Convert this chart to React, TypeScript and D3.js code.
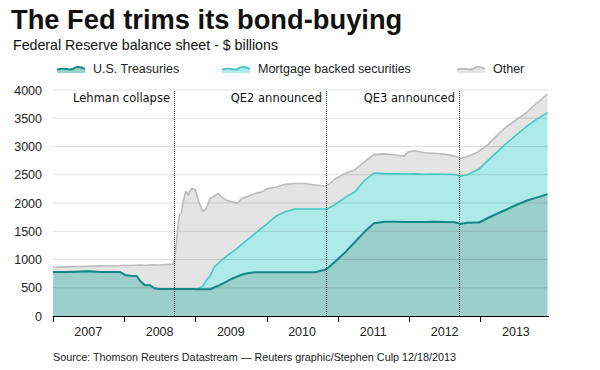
import React from "react";
import * as d3 from "d3";

const dates: string[] = [
  "2007-01-03","2007-03-07","2007-05-02","2007-07-04","2007-09-05","2007-11-07","2007-12-12",
  "2008-01-09","2008-02-06","2008-03-05","2008-03-26","2008-04-16","2008-05-14","2008-06-04",
  "2008-07-02","2008-08-06","2008-09-10","2008-09-17","2008-09-24","2008-10-01","2008-10-08",
  "2008-10-15","2008-10-22","2008-10-29","2008-11-05","2008-11-12","2008-11-19","2008-11-26",
  "2008-12-03","2008-12-10","2008-12-17","2008-12-24","2008-12-31","2009-01-07","2009-01-14",
  "2009-01-21","2009-01-28","2009-02-04","2009-02-11","2009-02-18","2009-02-25","2009-03-04",
  "2009-03-11","2009-03-18","2009-04-08","2009-04-29","2009-05-13","2009-06-10","2009-07-08",
  "2009-08-05","2009-08-26","2009-09-30","2009-11-04","2009-12-09","2010-01-06","2010-02-17",
  "2010-04-07","2010-05-26","2010-07-14","2010-09-08","2010-10-27","2010-11-10","2010-12-15",
  "2011-02-09","2011-03-30","2011-05-18","2011-07-06","2011-08-31","2011-10-19","2011-12-07",
  "2011-12-28","2012-02-01","2012-03-21","2012-05-09","2012-07-04","2012-08-22","2012-09-19",
  "2012-10-24","2012-12-12","2012-12-26","2013-02-06","2013-03-27","2013-05-15","2013-07-03",
  "2013-08-28","2013-10-16","2013-12-11",
];

const treasuries: number[] = [
  779,779,785,790,780,780,779,
  722,713,708,615,548,545,492,
  478,479,479,479,479,478,478,
  477,477,477,476,476,476,476,
  476,476,476,476,475,475,475,
  475,475,475,475,475,475,474,
  474,474,505,535,560,610,660,
  700,730,760,776,776,776,776,
  776,776,776,775,820,845,950,
  1130,1310,1490,1640,1668,1670,1665,
  1665,1665,1665,1668,1665,1660,1630,
  1650,1655,1655,1730,1810,1885,1965,
  2045,2095,2154,
];

const mbs: number[] = [
  0,0,0,0,0,0,0,
  0,0,0,0,0,0,0,
  0,0,0,0,0,0,0,
  0,0,0,0,0,0,0,
  0,0,0,0,0,0,5,
  15,30,45,65,110,150,185,
  210,236,360,395,420,450,470,
  500,535,605,687,789,864,989,
  1070,1118,1118,1119,1074,1055,1015,
  970,890,910,890,852,845,848,
  847,850,845,845,845,845,848,
  845,925,950,1015,1090,1172,1235,
  1315,1386,1446,
];

const other: number[] = [
  83,91,90,90,108,110,114,
  176,182,189,285,349,357,413,
  425,431,439,521,771,1022,1222,
  1333,1353,1513,1624,1724,1714,1664,
  1724,1774,1779,1764,1765,1685,1600,
  1510,1445,1360,1310,1285,1275,1291,
  1336,1370,1255,1240,1130,990,890,
  795,815,755,707,635,615,515,
  484,451,451,426,406,410,455,
  425,390,330,330,350,335,317,
  393,410,380,367,350,325,312,
  325,310,315,280,300,294,269,
  250,284,329,
];

const yTicks: number[] = [0, 500, 1000, 1500, 2000, 2500, 3000, 3500, 4000];
const yearLabels: string[] = ["2007", "2008", "2009", "2010", "2011", "2012", "2013"];

const events = [
  { date: "2008-09-15", label: "Lehman collapse" },
  { date: "2010-11-03", label: "QE2 announced" },
  { date: "2012-09-13", label: "QE3 announced" },
];

const seriesKeys = ["treasuries", "mbs", "other"];
const seriesNames = ["U.S. Treasuries", "Mortgage backed securities", "Other"];
const fills = ["#9bcfcc", "#aeeaea", "#e4e4e4"];
const strokes = ["#158784", "#45c8c5", "#bcbcbc"];

const parse = d3.timeParse("%Y-%m-%d");

export default function App() {
  const x = d3
    .scaleTime()
    .domain([new Date(2007, 0, 1), new Date(2014, 0, 1)])
    .range([52.7, 551.6]);
  const y = d3.scaleLinear().domain([0, 4000]).range([316, 90]);

  const table = dates.map((d, i) => ({
    date: parse(d) as Date,
    treasuries: treasuries[i],
    mbs: mbs[i],
    other: other[i],
  }));

  const stacked = d3.stack<any>().keys(seriesKeys)(table);

  const area = d3
    .area<any>()
    .x((d) => x(d.data.date))
    .y0((d) => y(d[0]))
    .y1((d) => y(d[1]));
  const line = d3
    .line<any>()
    .x((d) => x(d.data.date))
    .y((d) => y(d[1]));

  const font = "'Liberation Sans', Arial, sans-serif";
  const legendX = [57, 222, 457];

  return (
    <svg
      width={600}
      height={370}
      style={{ position: "absolute", left: 0, top: 0, background: "#fff" }}
      fontFamily={font}
    >
      <text x={11} y={29} fontSize={27.3} fontWeight="bold" fill="#111">
        The Fed trims its bond-buying
      </text>
      <text x={13} y={49.5} fontSize={14.2} fill="#111">
        Federal Reserve balance sheet - $ billions
      </text>

      {seriesNames.map((name, i) => {
        const lx = legendX[i];
        const wave = `M${lx},69.5 Q${lx + 5},68 ${lx + 10},69 Q${lx + 15},70.5 ${lx + 18},67.5 Q${lx + 23},66 ${lx + 28},69`;
        return (
          <g key={name}>
            <path d={`${wave} L${lx + 28},73 L${lx},73 Z`} fill={fills[i]} />
            <path d={wave} fill="none" stroke={strokes[i]} strokeWidth={1.8} />
            <text x={lx + 36} y={73} fontSize={12.5} fill="#222">
              {name}
            </text>
          </g>
        );
      })}

      {stacked.map((s, i) => (
        <path key={"a" + i} d={area(s) as string} fill={fills[i]} />
      ))}

      {yTicks.map((t) => (
        <g key={t}>
          {t > 0 && (
            <line x1={52.7} x2={548} y1={y(t)} y2={y(t)} stroke="#000" strokeOpacity={0.12} strokeWidth={1} />
          )}
          <text x={42} y={y(t) + 4.5} fontSize={12.5} fill="#222" textAnchor="end">
            {t}
          </text>
        </g>
      ))}

      {stacked
        .slice()
        .reverse()
        .map((s, j) => {
          const i = stacked.length - 1 - j;
          return (
            <path
              key={"l" + i}
              d={line(s) as string}
              fill="none"
              stroke={strokes[i]}
              strokeWidth={i === 0 ? 2 : 1.6}
              strokeLinejoin="round"
            />
          );
        })}

      {events.map((e) => {
        const ex = Math.round(x(parse(e.date) as Date)) + 0.5;
        return (
          <g key={e.label}>
            <line x1={ex} x2={ex} y1={91} y2={316} stroke="#333" strokeWidth={1} strokeDasharray="1,1" />
            <text
              x={ex - 4.5}
              y={101.5}
              fontSize={11.5}
              fontFamily="'DejaVu Sans', Verdana, sans-serif"
              fill="#111"
              textAnchor="end"
            >
              {e.label}
            </text>
          </g>
        );
      })}

      <line x1={52.7} x2={549} y1={316.5} y2={316.5} stroke="#000" strokeWidth={1} />
      {yearLabels.map((yr) => {
        const yv = +yr;
        const tx = Math.round(x(new Date(yv, 0, 1))) + 0.5;
        const cx = x(new Date(yv, 6, 2));
        return (
          <g key={yr}>
            <line x1={tx} x2={tx} y1={316} y2={322} stroke="#000" strokeWidth={1} />
            <text x={cx} y={336} fontSize={12.5} fill="#222" textAnchor="middle">
              {yr}
            </text>
          </g>
        );
      })}

      <text x={53} y={361} fontSize={10.8} fill="#222">
        Source: Thomson Reuters Datastream — Reuters graphic/Stephen Culp 12/18/2013
      </text>
    </svg>
  );
}
